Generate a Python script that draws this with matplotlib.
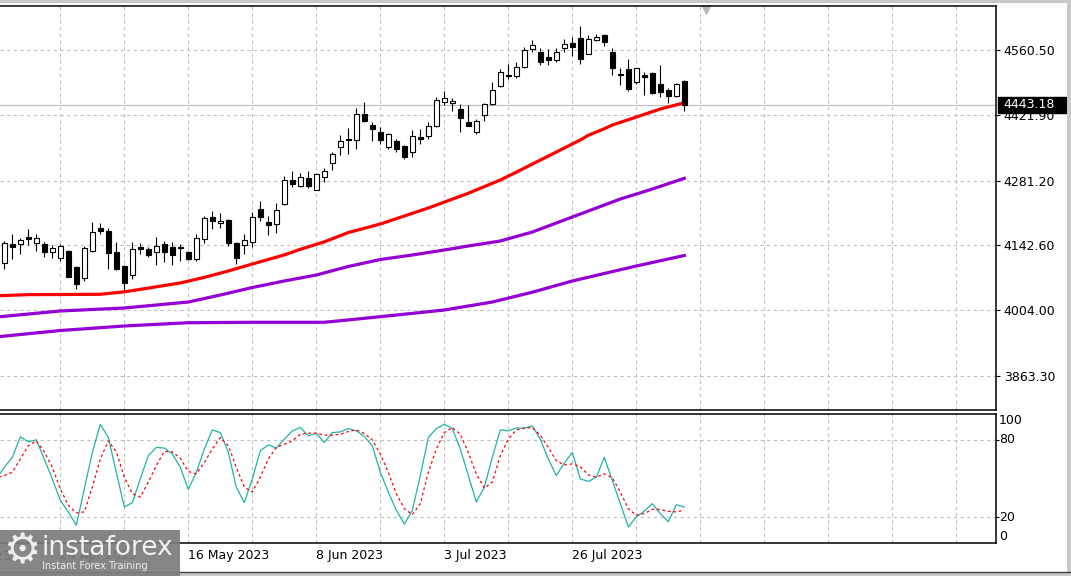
import matplotlib.pyplot as plt
from matplotlib.patches import Rectangle
from matplotlib.transforms import blended_transform_factory

# daily candles, oldest first
opens = [4104.0, 4145.3, 4145.3, 4160.3, 4147.5, 4144.7, 4127.6, 4116.0, 4130.4, 4096.1,
         4073.2, 4129.7, 4179.6, 4173.2, 4128.2, 4098.3, 4078.4, 4138.9, 4134.0, 4128.2,
         4144.7, 4138.9, 4138.9, 4127.6, 4113.9, 4155.4, 4203.1, 4189.6, 4196.7, 4147.5,
         4142.6, 4150.3, 4220.2, 4192.4, 4188.8, 4230.9, 4282.3, 4270.1, 4285.9, 4261.5,
         4288.1, 4318.0, 4352.3, 4369.4, 4367.3, 4423.5, 4399.4, 4385.0, 4353.6, 4365.8,
         4354.4, 4341.6, 4374.3, 4377.1, 4398.5, 4449.9, 4446.4, 4434.2, 4406.4, 4384.4,
         4420.8, 4444.3, 4483.5, 4507.0, 4504.4, 4523.5, 4562.6, 4555.6, 4544.9, 4538.5,
         4564.8, 4575.5, 4585.5, 4552.6, 4581.3, 4593.2, 4556.2, 4509.8, 4519.8, 4492.7,
         4507.0, 4510.6, 4487.1, 4474.9, 4462.7, 4494.2]
highs = [4152.4, 4166.7, 4158.2, 4176.8, 4167.4, 4150.3, 4142.6, 4145.3, 4132.5, 4098.3,
         4141.1, 4191.8, 4189.6, 4178.9, 4150.3, 4099.8, 4149.0, 4148.1, 4139.6, 4160.3,
         4151.8, 4150.3, 4145.3, 4131.0, 4166.7, 4205.3, 4216.0, 4211.0, 4198.8, 4150.3,
         4166.7, 4213.2, 4237.4, 4205.3, 4233.7, 4290.9, 4301.6, 4296.6, 4301.6, 4296.6,
         4308.6, 4342.2, 4378.0, 4393.6, 4437.0, 4449.2, 4406.4, 4396.4, 4382.2, 4370.7,
         4356.6, 4389.3, 4390.8, 4407.1, 4460.6, 4472.8, 4458.4, 4444.3, 4442.8, 4412.2,
         4447.1, 4491.4, 4520.5, 4530.5, 4535.9, 4566.3, 4581.9, 4564.8, 4562.6, 4565.4,
         4583.4, 4587.7, 4612.5, 4592.0, 4594.1, 4594.7, 4565.4, 4521.3, 4540.6, 4521.5,
         4514.1, 4514.1, 4528.4, 4478.5, 4489.2, 4496.3]
lows = [4092.5, 4113.9, 4123.9, 4142.6, 4130.4, 4118.2, 4114.7, 4109.6, 4074.1, 4049.7,
        4066.8, 4128.0, 4166.7, 4091.2, 4089.7, 4046.9, 4071.1, 4123.9, 4116.9, 4099.8,
        4107.5, 4099.8, 4109.6, 4110.5, 4109.6, 4148.1, 4178.1, 4180.2, 4141.7, 4103.2,
        4124.6, 4138.3, 4193.9, 4165.2, 4169.5, 4229.5, 4268.0, 4267.3, 4265.8, 4260.3,
        4278.7, 4303.7, 4336.4, 4337.9, 4348.0, 4407.1, 4366.4, 4359.3, 4348.0, 4342.9,
        4327.9, 4330.9, 4360.0, 4370.0, 4396.4, 4442.8, 4430.6, 4385.7, 4397.9, 4380.1,
        4407.9, 4442.2, 4482.0, 4497.8, 4499.9, 4521.3, 4555.6, 4528.4, 4527.8, 4535.5,
        4556.2, 4547.7, 4530.5, 4551.3, 4579.1, 4569.1, 4506.4, 4486.2, 4472.1, 4487.1,
        4464.8, 4466.3, 4459.3, 4446.4, 4460.6, 4430.6]
closes = [4146.8, 4139.6, 4153.3, 4156.7, 4157.5, 4127.6, 4136.1, 4141.1, 4075.4, 4060.4,
          4136.1, 4170.4, 4173.8, 4125.4, 4091.8, 4061.2, 4134.0, 4135.3, 4121.2, 4141.1,
          4128.9, 4122.4, 4136.1, 4112.6, 4158.2, 4201.0, 4195.2, 4193.9, 4146.8, 4116.0,
          4153.3, 4203.8, 4203.8, 4186.6, 4217.4, 4281.7, 4274.4, 4288.1, 4270.1, 4294.5,
          4301.6, 4337.3, 4366.8, 4367.3, 4422.9, 4409.2, 4392.1, 4367.9, 4380.1, 4348.0,
          4330.9, 4377.1, 4370.7, 4397.9, 4452.9, 4457.1, 4451.4, 4415.6, 4398.5, 4407.9,
          4444.9, 4474.3, 4512.8, 4504.2, 4523.5, 4559.9, 4570.6, 4535.5, 4538.5, 4556.9,
          4573.3, 4567.6, 4540.6, 4583.4, 4587.7, 4578.3, 4521.3, 4506.4, 4476.4, 4521.3,
          4503.4, 4467.8, 4470.0, 4461.4, 4487.1, 4443.18]

# moving averages, read at some bars
red_idx = [-1, 3, 7, 12, 15, 18, 22, 25, 28, 31, 35, 37, 40, 43, 47, 50, 53, 55, 58,
           62, 64, 66, 68, 70, 72, 73, 75, 76, 79, 82, 85]
red_val = [4034.5, 4037.0, 4037.3, 4037.7, 4043.0, 4051.0, 4062.0, 4073.9, 4087.6, 4102.5,
           4122.0, 4134.0, 4150.0, 4169.9, 4188.1, 4205.3, 4222.4, 4235.0, 4254.0,
           4282.3, 4299.0, 4316.5, 4333.5, 4350.8, 4368.0, 4378.0, 4392.0, 4400.0,
           4417.1, 4434.2, 4447.7]
ma_mid_idx = [-1, 7, 15, 23, 27, 31, 35, 39, 43, 47, 51, 55, 58, 62, 66, 70, 74, 77, 81, 85]
ma_mid_val = [3989.0, 4002.0, 4008.4, 4021.2, 4036.2, 4052.2, 4066.2, 4079.0, 4097.2, 4112.2,
              4121.8, 4132.5, 4141.1, 4151.8, 4171.0, 4196.7, 4222.4, 4241.6, 4263.0, 4285.9]
ma_slow_idx = [-1, 7, 15, 23, 31, 40, 44, 50, 55, 61, 66, 71, 79, 85]
ma_slow_val = [3946.5, 3960.2, 3969.9, 3976.9, 3977.8, 3977.8, 3984.6, 3995.1, 4004.1,
               4021.2, 4042.2, 4066.2, 4098.3, 4120.7]

# stochastic, bars -1..85
stoch_k = [49.7, 58.7, 66.4, 82.3, 78.4, 80.0, 65.1, 49.7, 33.1, 24.1, 13.8, 42.0, 70.2,
           92.0, 81.8, 54.8, 27.9, 31.3, 49.7, 67.7, 74.1, 73.6, 69.0, 58.7, 41.5, 54.8,
           72.8, 87.7, 85.6, 70.2, 43.3, 31.3, 49.7, 71.5, 76.1, 73.6, 80.5, 86.9, 89.5,
           83.1, 85.1, 77.9, 85.6, 86.1, 88.7,
           86.9, 82.5, 75.4, 54.8, 39.5, 25.4, 14.6, 25.4, 52.3, 81.8, 88.7, 92.0, 88.7,
           72.8, 52.3, 31.8, 43.3, 66.4, 87.7, 86.9, 89.2, 89.0, 90.7, 80.5, 65.1, 52.3,
           62.0, 70.2, 49.7, 47.7, 51.0, 66.4, 48.4, 30.5, 12.5, 20.2, 24.8, 30.5, 22.8,
           16.4, 29.7, 27.9]
stoch_d = [50.5, 52.3, 54.8, 65.1, 75.4, 79.2, 70.7, 58.7, 42.0, 29.2, 23.3, 24.1, 43.3,
           65.1, 79.2, 70.7, 51.0, 38.2, 35.6, 47.2, 60.0, 71.0, 70.7, 65.6, 55.4, 53.6,
           62.5, 72.8, 81.8, 75.4, 58.7, 43.3, 39.5, 51.0, 65.1, 74.1, 76.6, 79.2, 84.3,
           85.1, 85.1, 83.6, 83.6, 84.3, 86.4,
           87.7, 84.8, 80.0, 69.0, 54.8, 38.2, 26.6, 22.0, 30.5, 54.8, 72.8, 85.6, 89.5,
           84.3, 70.2, 53.6, 42.5, 47.2, 67.7, 80.5, 87.7, 89.0, 89.5, 83.6, 74.1, 63.8,
           60.5, 61.3, 59.2, 52.8, 51.0, 53.6, 50.5, 39.5, 26.6, 21.5, 22.8, 26.1, 25.9,
           24.6, 24.1, 25.4]

price_ticks = [3863.30, 4004.00, 4142.60, 4281.20, 4421.90, 4560.50]
date_idx = [-9, 7, 23, 39, 55, 71]
date_labels = ["31 Mar 2023", "24 Apr 2023", "16 May 2023", "8 Jun 2023", "3 Jul 2023", "26 Jul 2023"]
last_price = 4443.18

W, H = 1071, 576
fig = plt.figure(figsize=(W / 100, H / 100), dpi=100)
fig.patch.set_facecolor("white")

ax = fig.add_axes([0, 1 - 410 / H, 996 / W, 404 / H])
ax2 = fig.add_axes([0, 1 - 543 / H, 996 / W, 129 / H])

grid_idx = list(range(7, 124, 8))
grid_style = dict(color="#c0c0c0", linestyle=(0, (3, 3)), linewidth=0.8)

for a in (ax, ax2):
    a.set_xlim(-0.54, 123.96)
    a.set_xticks(grid_idx)
    a.tick_params(axis="x", length=0, labelbottom=False)
    a.grid(True, **grid_style)
    a.set_axisbelow(True)
    a.spines["left"].set_visible(False)
    for s in ("top", "right", "bottom"):
        a.spines[s].set_linewidth(1.1)
        a.spines[s].set_color("black")
    a.yaxis.tick_right()

# main chart
ax.set_ylim(3790.1, 4654.7)
ax.set_yticks(price_ticks)
ax.set_yticklabels([f"{v:.2f}" for v in price_ticks])
ax.tick_params(axis="y", length=3, width=0.8, pad=2.5, labelsize=9)

ax.plot(ma_slow_idx, ma_slow_val, color="#9400d3", lw=2.3, zorder=2)
ax.plot(ma_mid_idx, ma_mid_val, color="#9400d3", lw=2.3, zorder=2)
ax.plot(red_idx, red_val, color="#ff0000", lw=2.3, zorder=2)

ax.axhline(last_price, color="#c0c0c0", lw=0.9, zorder=1.5)

for i, (o, h, l, c) in enumerate(zip(opens, highs, lows, closes)):
    ax.vlines(i, l, h, color="black", lw=0.8, zorder=3)
    up = c >= o
    ax.bar(i, max(abs(c - o), 0.8), bottom=min(o, c), width=0.56,
           color="white" if up else "black", edgecolor="black", lw=0.8, zorder=4)

# last price box on the price scale
tr = blended_transform_factory(fig.transFigure, ax.transData)
ax.add_patch(Rectangle((998 / W, last_price - 17), 70 / W, 34, transform=tr,
                       facecolor="black", edgecolor="black", clip_on=False, zorder=10))
ax.text(1003 / W, last_price, f"{last_price:.2f}", transform=tr, color="white",
        fontsize=9, va="center", ha="left", zorder=11, clip_on=False)

# chart shift marker
ax.plot([87.7], [0.99], marker="v", color="#b8b8b8", ms=7, mec="none",
        transform=blended_transform_factory(ax.transData, ax.transAxes), clip_on=False)

# stochastic
ax2.set_ylim(0, 100)
ax2.set_yticks([20, 80])
ax2.tick_params(axis="y", length=2, width=0.8, labelright=False)
ax2.plot(range(-1, 86), stoch_k, color="#20b2aa", lw=0.9, zorder=3)
ax2.plot(range(-1, 86), stoch_d, color="red", lw=0.9, dashes=(2.2, 2.2), zorder=3)

tr2 = blended_transform_factory(fig.transFigure, ax2.transData)
ax2.text(999 / W, 100, "100", transform=tr2, fontsize=9, va="top", ha="left")
ax2.text(999 / W, 80, "80", transform=tr2, fontsize=9, va="center", ha="left")
ax2.text(999 / W, 20, "20", transform=tr2, fontsize=9, va="center", ha="left")
ax2.text(999 / W, 0, "0", transform=tr2, fontsize=9, va="bottom", ha="left")

# time scale
trd = blended_transform_factory(ax2.transData, fig.transFigure)
for i, lab in zip(date_idx, date_labels):
    ax2.text(i, 1 - 556 / H, lab, transform=trd, fontsize=9, va="center", ha="left",
             clip_on=False)

# window frame bits
fig.patches.append(Rectangle((0, 1 - 3 / H), 1, 3 / H, transform=fig.transFigure,
                             facecolor="#c8c8c8", edgecolor="none"))
fig.patches.append(Rectangle((1067 / W, 0), 4 / W, 1, transform=fig.transFigure,
                             facecolor="#c8c8c8", edgecolor="none"))
fig.patches.append(Rectangle((0, 0), 1, 4 / H, transform=fig.transFigure,
                             facecolor="#c8c8c8", edgecolor="none"))
fig.add_artist(plt.Line2D([0, 1], [4.5 / H, 4.5 / H], color="#404040", lw=1.0))

# watermark
fig.patches.append(Rectangle((0, 0), 180 / W, 46 / H, transform=fig.transFigure,
                             facecolor="#7c7c7c", edgecolor="none", alpha=0.92, zorder=20))
fig.text(3 / W, 1 - 551 / H, "\u2699", fontsize=30, color="#eeeeee", va="center",
         ha="left", zorder=21)
fig.text(41 / W, 1 - 548 / H, "instaforex", fontsize=19, color="#f2f2f2", va="center",
         ha="left", zorder=21)
fig.text(42 / W, 1 - 566 / H, "Instant Forex Training", fontsize=7, color="#eeeeee",
         va="center", ha="left", zorder=21)

fig.savefig("out.png", dpi=100)
